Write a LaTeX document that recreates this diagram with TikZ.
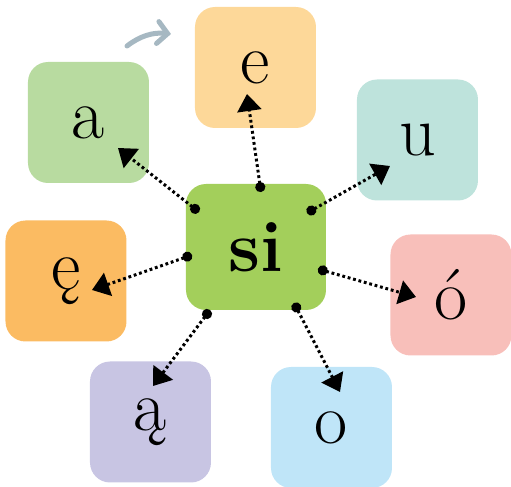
\documentclass[tikz,border=0pt]{standalone}
\usetikzlibrary{arrows.meta}
\definecolor{siGreen}{HTML}{A3CF5B}
\definecolor{eCol}{HTML}{FDD899}
\definecolor{aCol}{HTML}{B8DBA0}
\definecolor{uCol}{HTML}{BEE3DC}
\definecolor{eoCol}{HTML}{FBBB62}
\definecolor{oaCol}{HTML}{F8BFBA}
\definecolor{aoCol}{HTML}{C8C5E3}
\definecolor{oCol}{HTML}{BFE5F8}
\definecolor{hintGray}{HTML}{A6B8C2}
\tikzset{
  vowel/.style={rounded corners=10pt,minimum width=60.5pt,minimum height=60.5pt,
    inner sep=0pt,font=\fontsize{36}{40}\selectfont},
  link/.style={line width=1.5pt,dash pattern=on 1.4pt off 1.4pt,
    {Circle[length=5pt]}-{Triangle[length=8.5pt,width=12pt]}}
}
\begin{document}
\begin{tikzpicture}[x=0.5pt,y=-0.5pt]
  \useasboundingbox (0,0) rectangle (511,487);
  % syllable in the middle
  \node[vowel,fill=siGreen,minimum width=70pt,minimum height=63pt,
    font=\fontsize{36}{40}\selectfont\bfseries] (si) at (256,247) {si};
  % vowels around it
  \node[vowel,fill=eCol]  (e)  at (255.5,67.5)  {e};
  \node[vowel,fill=aCol]  (a)  at (88.5,122.5)  {a};
  \node[vowel,fill=uCol]  (u)  at (417.5,140)   {u};
  \node[vowel,fill=eoCol] (eo) at (66,281)      {ę};
  \node[vowel,fill=oaCol] (oa) at (451,295)     {ó};
  \node[vowel,fill=aoCol] (ao) at (150.5,422)   {ą};
  \node[vowel,fill=oCol]  (o)  at (331.5,427.5) {o};
  % start and end points of the links
  \foreach \n/\sx/\sy/\ex/\ey in {a/199/212/118/148, e/261/192/247/94,
      u/307/213/390/166, eo/192/255/92/290, oa/318/269/416/297,
      ao/210/310/153/386, o/294/303/340/392}{
    \coordinate (s-\n) at (\sx,\sy);
    \coordinate (t-\n) at (\ex,\ey);
    \draw[link] (s-\n) -- (t-\n);
  }
  % small hint arrow
  \coordinate (h1) at (127,46);
  \coordinate (h2) at (171,34);
  \draw[hintGray,line width=2.5pt,line cap=round,
    -{Straight Barb[length=5pt,width=11pt,line cap=round]}]
    (h1) .. controls (140,36) and (153,32) .. (h2);
\end{tikzpicture}
\end{document}
